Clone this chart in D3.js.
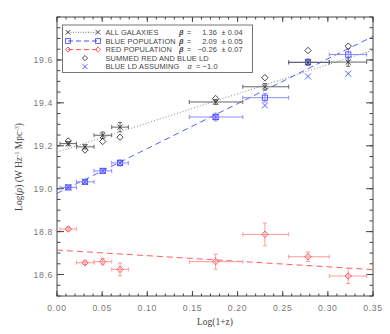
<!DOCTYPE html>
<html>
<head>
<meta charset="utf-8">
<script src="https://cdn.jsdelivr.net/npm/d3@7"></script>
<style>
  body { margin: 0; background: #fff; }
  svg { display: block; }
  .tick-label { font-family: "Liberation Sans", Arial, sans-serif; font-size: 8.6px; letter-spacing: 0.7px; fill: #777; }
  .leg { font-family: "Liberation Sans", Arial, sans-serif; font-size: 7.4px; letter-spacing: 0.12px; fill: #444; }
  .title-lab { font-family: "Liberation Serif", "Times New Roman", serif; font-size: 9.5px; fill: #444; }
</style>
</head>
<body>
<div id="chart"></div>
<script>
// redshift bins (log(1+z)) -- centers and edges
let binMid = [0.0125, 0.031, 0.0506, 0.0698, 0.1757, 0.2303, 0.278, 0.3226];
let binLo  = [0.0033, 0.0215, 0.041, 0.0606, 0.1465, 0.2058, 0.2566, 0.3016];
let binHi  = [0.0215, 0.041, 0.0606, 0.079, 0.2058, 0.2566, 0.3016, 0.343];

// log luminosity density
let allGal   = [19.21, 19.195, 19.249, 19.287, 19.404, 19.475, 19.588, 19.59];
let allErr   = [0.01, 0.01, 0.015, 0.022, 0.012, 0.015, 0.012, 0.02];
let summed   = [19.222, 19.18, 19.22, 19.24, 19.42, 19.517, 19.644, 19.664];
let bluePop  = [19.006, 19.032, 19.083, 19.12, 19.334, 19.424, 19.59, 19.625];
let blueErr  = [0.008, 0.008, 0.01, 0.014, 0.018, 0.02, 0.015, 0.028];
let blueAlt  = [19.006, 19.032, 19.083, 19.12, 19.334, 19.388, 19.523, 19.536];
let redPop   = [18.812, 18.655, 18.66, 18.624, 18.66, 18.787, 18.683, 18.593];
let redErr   = [0.008, 0.008, 0.016, 0.03, 0.035, 0.053, 0.022, 0.035];

// fits: [intercept, slope]
let fitAll  = [19.17, 1.36];
let fitBlue = [18.978, 2.09];
let fitRed  = [18.714, -0.26];

let xTicks = [0, 0.05, 0.10, 0.15, 0.20, 0.25, 0.30, 0.35];
let yTicks = [18.6, 18.8, 19.0, 19.2, 19.4, 19.6];

let W = 390, H = 334;
let margin = {top: 17, right: 17, bottom: 38, left: 57};
let width = W - margin.left - margin.right;
let height = H - margin.top - margin.bottom;

let svg = d3.select("#chart").append("svg")
  .attr("width", W).attr("height", H);
let g = svg.append("g")
  .attr("transform", "translate(" + margin.left + "," + margin.top + ")");

let x = d3.scaleLinear().domain([0, 0.35]).range([0, width]);
let y = d3.scaleLinear().domain([18.5, 19.8]).range([height, 0]);

let axisCol = "#444";
let blackCol = "#333", blueCol = "#4b4bff", redCol = "#ff4b4b";
let blueBar = "#8c8cff", redBar = "#ff9a9a", blackBar = "#666";

// frame
g.append("rect").attr("width", width).attr("height", height)
  .attr("fill", "none").attr("stroke", axisCol).attr("stroke-width", 1);

// ticks (inward on all four sides)
function drawTicks(vals, len, isX) {
  vals.forEach(v => {
    if (isX) {
      let px = x(v);
      g.append("line").attr("x1", px).attr("x2", px).attr("y1", height).attr("y2", height - len).attr("stroke", axisCol);
      g.append("line").attr("x1", px).attr("x2", px).attr("y1", 0).attr("y2", len).attr("stroke", axisCol);
    } else {
      let py = y(v);
      g.append("line").attr("x1", 0).attr("x2", len).attr("y1", py).attr("y2", py).attr("stroke", axisCol);
      g.append("line").attr("x1", width).attr("x2", width - len).attr("y1", py).attr("y2", py).attr("stroke", axisCol);
    }
  });
}
drawTicks(d3.range(0, 0.3501, 0.01), 2.5, true);
drawTicks(xTicks, 5, true);
drawTicks(d3.range(18.5, 19.801, 0.05), 3.5, false);
drawTicks(yTicks, 7, false);

g.selectAll(".xl").data(xTicks).enter().append("text")
  .attr("class", "tick-label")
  .attr("x", d => x(d)).attr("y", height + 15)
  .attr("text-anchor", "middle")
  .text(d => d.toFixed(2));

g.selectAll(".yl").data(yTicks).enter().append("text")
  .attr("class", "tick-label")
  .attr("x", -4).attr("y", d => y(d) + 3)
  .attr("text-anchor", "end")
  .text(d => d.toFixed(1));

svg.append("text").attr("class", "title-lab")
  .attr("x", margin.left + width / 2).attr("y", 325)
  .attr("text-anchor", "middle").text("Log(1+z)");

let yl = svg.append("text").attr("class", "title-lab")
  .attr("transform", "translate(22,167) rotate(-90)")
  .attr("text-anchor", "middle");
yl.append("tspan").text("Log(");
yl.append("tspan").attr("font-style", "italic").text("ρ");
yl.append("tspan").text(")  (W Hz");
yl.append("tspan").attr("font-size", "6.5px").attr("dy", -3.5).text("-1");
yl.append("tspan").attr("dy", 3.5).text(" Mpc");
yl.append("tspan").attr("font-size", "6.5px").attr("dy", -3.5).text("-3");
yl.append("tspan").attr("dy", 3.5).text(")");

// plot clip
svg.append("clipPath").attr("id", "clip").append("rect")
  .attr("width", width).attr("height", height);
let plot = g.append("g").attr("clip-path", "url(#clip)");

// fit lines
function fitLine(f, col, dash) {
  let line = d3.line().x(d => x(d)).y(d => y(f[0] + f[1] * d));
  plot.append("path").datum([0, 0.35]).attr("d", line)
    .attr("fill", "none").attr("stroke", col).attr("stroke-width", 0.9)
    .attr("stroke-dasharray", dash);
}
fitLine(fitAll, "#777", "1,2");
fitLine(fitBlue, blueCol, "6,4");
fitLine(fitRed, redCol, "6,4");

// error bars
function errBars(vals, errs, col) {
  vals.forEach((v, i) => {
    let bg = plot.append("g").attr("stroke", col).attr("stroke-width", 1);
    bg.append("line").attr("x1", x(binLo[i])).attr("x2", x(binHi[i])).attr("y1", y(v)).attr("y2", y(v));
    [binLo[i], binHi[i]].forEach(e => {
      bg.append("line").attr("x1", x(e)).attr("x2", x(e)).attr("y1", y(v) - 2).attr("y2", y(v) + 2);
    });
    bg.append("line").attr("x1", x(binMid[i])).attr("x2", x(binMid[i])).attr("y1", y(v - errs[i])).attr("y2", y(v + errs[i]));
    [v - errs[i], v + errs[i]].forEach(e => {
      bg.append("line").attr("x1", x(binMid[i]) - 2).attr("x2", x(binMid[i]) + 2).attr("y1", y(e)).attr("y2", y(e));
    });
  });
}
errBars(redPop, redErr, redBar);
errBars(bluePop, blueErr, blueBar);
errBars(allGal, allErr, blackBar);

// marker shapes
function marker(sel, type, cx, cy, col, s) {
  if (type === "diamond") {
    sel.append("path").attr("d", `M${cx},${cy - s}L${cx + s},${cy}L${cx},${cy + s}L${cx - s},${cy}Z`)
      .attr("fill", "none").attr("stroke", col).attr("stroke-width", 0.9);
  } else if (type === "square") {
    sel.append("rect").attr("x", cx - s).attr("y", cy - s).attr("width", 2 * s).attr("height", 2 * s)
      .attr("fill", "none").attr("stroke", col).attr("stroke-width", 0.9);
  } else if (type === "cross") {
    sel.append("path").attr("d", `M${cx - s},${cy - s}L${cx + s},${cy + s}M${cx - s},${cy + s}L${cx + s},${cy - s}`)
      .attr("stroke", col).attr("stroke-width", 0.9);
  }
}

redPop.forEach((v, i) => marker(plot, "diamond", x(binMid[i]), y(v), redCol, 3.2));
bluePop.forEach((v, i) => marker(plot, "square", x(binMid[i]), y(v), blueCol, 2.6));
blueAlt.forEach((v, i) => marker(plot, "cross", x(binMid[i]), y(v), blueCol, 3));
allGal.forEach((v, i) => marker(plot, "cross", x(binMid[i]), y(v), blackCol, 2.6));
summed.forEach((v, i) => marker(plot, "diamond", x(binMid[i]), y(v), blackCol, 3.2));

// legend
let leg = svg.append("g");
leg.append("rect").attr("x", 62.5).attr("y", 25).attr("width", 190).attr("height", 47.5)
  .attr("fill", "#fff").attr("stroke", "#666").attr("stroke-width", 0.9);
let rows = [32.3, 41, 49.6, 58.1, 66.6];
let labels = ["ALL GALAXIES", "BLUE POPULATION", "RED POPULATION", "SUMMED RED AND BLUE LD", "BLUE LD ASSUMING"];
let betas = [["1.36", "0.04"], ["2.09", "0.05"], ["\u22120.26", "0.07"]];

leg.append("line").attr("x1", 68).attr("x2", 98).attr("y1", rows[0]).attr("y2", rows[0])
  .attr("stroke", "#777").attr("stroke-dasharray", "1,1.5");
marker(leg, "cross", 68, rows[0], blackCol, 2.4);
marker(leg, "cross", 98, rows[0], blackCol, 2.4);
leg.append("line").attr("x1", 68).attr("x2", 98).attr("y1", rows[1]).attr("y2", rows[1])
  .attr("stroke", blueCol).attr("stroke-dasharray", "5,3");
marker(leg, "square", 68, rows[1], blueCol, 2.4);
marker(leg, "square", 98, rows[1], blueCol, 2.4);
leg.append("line").attr("x1", 68).attr("x2", 98).attr("y1", rows[2]).attr("y2", rows[2])
  .attr("stroke", redCol).attr("stroke-dasharray", "5,3");
marker(leg, "diamond", 68, rows[2], redCol, 2.6);
marker(leg, "diamond", 98, rows[2], redCol, 2.6);
marker(leg, "diamond", 85, rows[3], blackCol, 2.6);
marker(leg, "cross", 85, rows[4], blueCol, 2.4);

labels.forEach((t, i) => {
  leg.append("text").attr("class", "leg").attr("x", 105.5).attr("y", rows[i] + 2.7).text(t);
});
betas.forEach((b, i) => {
  leg.append("text").attr("class", "leg").attr("x", 179).attr("y", rows[i] + 2.7)
    .attr("font-style", "italic").attr("font-weight", "bold").text("β");
  leg.append("text").attr("class", "leg").attr("x", 187).attr("y", rows[i] + 2.7).text("=");
  leg.append("text").attr("class", "leg").attr("x", 217).attr("y", rows[i] + 2.7)
    .attr("text-anchor", "end").text(b[0]);
  leg.append("text").attr("class", "leg").attr("x", 221.5).attr("y", rows[i] + 2.7).text("±  " + b[1]);
});
leg.append("text").attr("class", "leg").attr("x", 187.5).attr("y", rows[4] + 2.7)
  .attr("font-style", "italic").text("α");
leg.append("text").attr("class", "leg").attr("x", 196).attr("y", rows[4] + 2.7).text("= \u22121.0");
</script>
</body>
</html>
